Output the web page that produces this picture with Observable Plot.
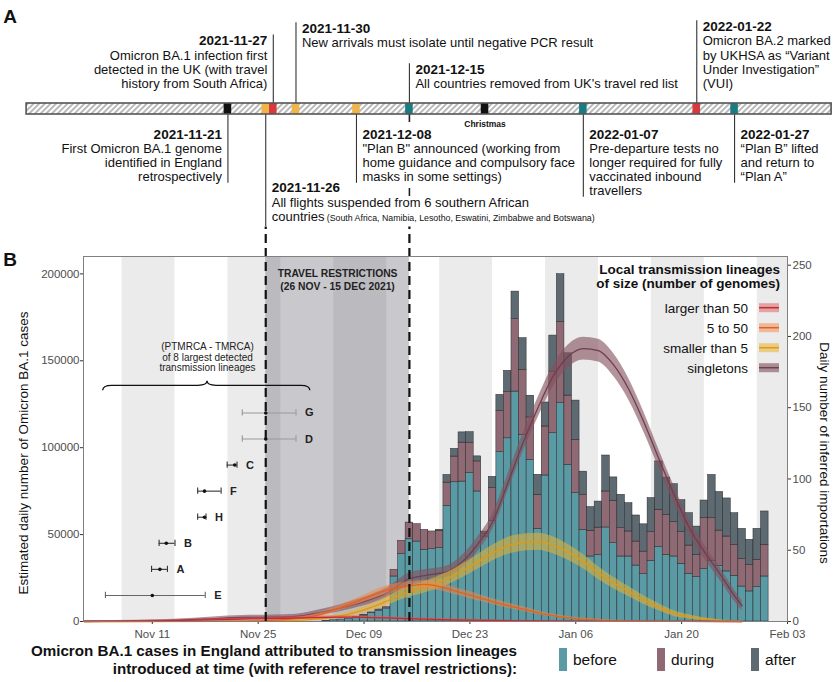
<!DOCTYPE html>
<html>
<head>
<meta charset="utf-8">
<script src="https://cdn.jsdelivr.net/npm/d3@7"></script>
<script src="https://cdn.jsdelivr.net/npm/@observablehq/plot@0.6"></script>
<style>
  html,body{margin:0;padding:0;background:#fff;}
  #root{position:relative;width:833px;height:682px;overflow:hidden;font-family:"Liberation Sans",Arial,Helvetica,sans-serif;color:#111;}
  #root svg{display:block;}
  .lg{position:absolute;white-space:nowrap;}
</style>
</head>
<body>
<div id="root"></div>
<script>
const FONT = '"Liberation Sans", Arial, Helvetica, sans-serif';
const D = s => new Date(s.length > 10 ? s : s + "T00:00:00Z");
const DAY = 864e5;
const novDay = d => new Date(Date.UTC(2021, 10, 1) + (d - 1) * DAY);

// ---------------- Panel A : timeline ----------------
const timelineRange = ["2021-10-25T09:00:00Z", "2022-02-08T20:00:00Z"];
const eventDates  = ["2021-11-21","2021-11-26","2021-11-27","2021-11-30","2021-12-08","2021-12-15","2021-12-25","2022-01-07","2022-01-22","2022-01-27"];
const eventTitles = ["2021-11-21","2021-11-26","2021-11-27","2021-11-30","2021-12-08","2021-12-15","Christmas","2022-01-07","2022-01-22","2022-01-27"];
const eventTexts = [
  ["First Omicron BA.1 genome","identified in England","retrospectively"],
  ["All flights suspended from 6 southern African","countries"],
  ["Omicron BA.1 infection first","detected in the UK (with travel","history from South Africa)"],
  ["New arrivals must isolate until negative PCR result"],
  ["\"Plan B\" announced (working from","home guidance and compulsory face","masks in some settings)"],
  ["All countries removed from UK's travel red list"],
  [],
  ["Pre-departure tests no","longer required for fully","vaccinated inbound","travellers"],
  ["Omicron BA.2 marked","by UKHSA as \u201cVariant","Under Investigation\u201d","(VUI)"],
  ["\u201cPlan B\u201d lifted","and return to","\u201cPlan A\u201d"]
];
const eventNote = "(South Africa, Namibia, Lesotho, Eswatini, Zimbabwe and Botswana)";
const eventColors = ["#111111","#f0b54a","#d8393b","#f0b54a","#f0b54a","#1b7b80","#111111","#1b7b80","#d8393b","#1b7b80"];

// ---------------- Panel B : data ----------------
const restriction = ["2021-11-26","2021-12-15"];
const restrictionLabel = "TRAVEL RESTRICTIONS\n(26 NOV - 15 DEC 2021)";
const xTickDates = ["2021-11-11","2021-11-25","2021-12-09","2021-12-23","2022-01-06","2022-01-20","2022-02-03"];
const yLeftTicks = [0, 50000, 100000, 150000, 200000];
const yRightTicks = [0, 50, 100, 150, 200, 250];
const R = 820; // cases per importation (secondary axis)

const barFirst = "2021-12-04", barLast = "2022-01-31";
const periods = ["before","during","after"];
const periodColors = ["#5a9aa4","#8f6a75","#5e6a72"];
const beforeCases = [400,700,1100,1600,2200,3400,4800,6300,7500,25900,38700,47300,46000,41200,41600,42200,66500,80100,80500,85300,74800,48900,57900,97400,105400,132300,107400,93000,
  53300,84000,108300,125600,90100,73800,52700,37400,38300,54100,45100,37400,37400,32200,27200,34900,42800,38300,37400,33200,27400,25500,30100,34900,32000,28800,26300,20100,17300,19800,25900];
const duringCases = [0,0,0,0,200,300,400,600,700,3800,7700,9600,10000,11500,10200,10000,13400,14800,22400,17300,17300,1300,18800,23800,26500,41600,37400,24400,
  19600,28200,35500,46600,39900,30700,20100,14800,15700,20700,24400,16300,14400,13800,13000,16500,21500,23000,19700,18200,16300,12800,29300,24500,20300,20100,17800,15900,15300,15700,18200];
const afterCases = [0,0,0,0,0,0,0,0,0,0,0,0,0,0,0,600,4400,4400,5900,6300,2900,1500,6500,9200,12300,15900,18200,12500,
  11500,13800,20700,27600,24300,22600,13400,13600,15000,20700,13400,19200,16300,15000,15700,19600,27800,21500,21900,18400,18600,16300,10200,24900,22200,21900,18200,17300,14400,17800,19200];

// importation curves: [date, value, half-width of ribbon]
const singletonsCurve = [["2021-11-02",0,0.2],["2021-11-08",0.2,0.4],["2021-11-14",0.8,0.8],["2021-11-19",2,1.2],["2021-11-23",2.8,1.4],["2021-11-27",3,1.5],["2021-11-30",3.5,1.6],["2021-12-03",6,2],["2021-12-06",9.5,2.5],["2021-12-09",14,3],["2021-12-12",20,3.5],["2021-12-15",30,4],["2021-12-18",33,4],["2021-12-20",35,4],["2021-12-22",42,4.5],["2021-12-24",54,5],["2021-12-26",70,5.5],["2021-12-28",97,6],["2021-12-30",125,6.5],["2022-01-01",150,7],["2022-01-03",172,7.5],["2022-01-05",186,8],["2022-01-07",191.5,8],["2022-01-09",190,8],["2022-01-11",180,8],["2022-01-13",163,7.5],["2022-01-15",140,7],["2022-01-17",114,6.5],["2022-01-19",89,6],["2022-01-21",66,5.5],["2022-01-23",49,5],["2022-01-25",34,4.5],["2022-01-27",18,4],["2022-01-28",11,3.5]];
const smallCurve = [["2021-11-02",0,0.1],["2021-11-20",0.05,0.2],["2021-11-26",0.3,0.4],["2021-12-01",1,0.8],["2021-12-05",3,1.5],["2021-12-08",6.5,2],["2021-12-11",12,3],["2021-12-14",19,3.5],["2021-12-17",24,4],["2021-12-20",30,4.5],["2021-12-23",38.5,5],["2021-12-26",48,5.5],["2021-12-29",54.5,6],["2022-01-01",56,6],["2022-01-03",53.5,6],["2022-01-05",48.5,5.5],["2022-01-07",42,5],["2022-01-09",34,4.5],["2022-01-11",27,4],["2022-01-13",21,3.5],["2022-01-15",15,3],["2022-01-17",10,2.5],["2022-01-19",5.5,2],["2022-01-21",3.2,1.5],["2022-01-23",1.6,1],["2022-01-25",0.7,0.6],["2022-01-28",0.2,0.3]];
const midCurve = [["2021-11-02",0,0.1],["2021-11-22",0.2,0.3],["2021-11-26",0.6,0.5],["2021-11-30",2,1],["2021-12-03",4.5,1.5],["2021-12-06",10,2],["2021-12-09",16,2.5],["2021-12-12",22,3],["2021-12-15",25,3],["2021-12-17",26,3],["2021-12-19",24.5,3],["2021-12-21",21.5,2.5],["2021-12-23",18.5,2.5],["2021-12-25",15.5,2.2],["2021-12-27",12.5,2],["2021-12-29",10,1.8],["2021-12-31",7.5,1.5],["2022-01-02",5,1.2],["2022-01-04",3.3,1],["2022-01-06",2,0.8],["2022-01-09",1,0.5],["2022-01-13",0.4,0.3],["2022-01-20",0.1,0.2],["2022-01-28",0,0.1]];
const largeCurve = [["2021-11-02",0.2,0.3],["2021-11-10",0.5,0.5],["2021-11-17",1,0.7],["2021-11-24",1.8,0.9],["2021-12-01",2.6,1],["2021-12-07",3,1],["2021-12-12",2.5,1],["2021-12-17",1.6,0.8],["2021-12-23",0.9,0.6],["2021-12-30",0.4,0.4],["2022-01-08",0.15,0.2],["2022-01-20",0.05,0.1],["2022-01-28",0,0.1]];
const curveLabels = ["larger than 50","5 to 50","smaller than 5","singletons"];
const curveLegendTitle = ["Local transmission lineages","of size (number of genomes)"];

// 8 largest transmission lineages (PTMRCA - TMRCA), days of November 2021
const lineageNames = ["G","D","C","F","H","B","A","E"];
const lineageCases = [120000,105000,90000,75000,60000,45000,30000,15000];
const lineageLo  = [22.9,22.9,20.9,17.0,17.0,11.9,10.9,4.8];
const lineageMid = [26.0,26.0,21.9,17.9,17.9,12.85,12.0,11.0];
const lineageHi  = [30.0,30.0,22.2,20.1,18.1,14.0,13.0,18.0];
const braceText = "(PTMRCA - TMRCA)\nof 8 largest detected\ntransmission lineages";
const braceSpan = [4.5, 31.9], braceTip = 18.3, braceCases = 135600, braceTextCases = 144000;

const yLeftLabel = "Estimated daily number of Omicron BA.1 cases";
const yRightLabel = "Daily number of inferred importations";
const bottomLegendTitle = ["Omicron BA.1 cases in England attributed to transmission lineages","introduced at time (with reference to travel restrictions):"];

// ---------------- shared x scale ----------------
const xScale = {type: "utc", domain: [new Date(Date.UTC(2021, 10, 1, 21, 36)), D("2022-02-03")]};
const ML = 83, MR = 46, W = 833;

// ================= PANEL A =================
const BAR_Y1 = 103, BAR_Y2 = 114, LH = 14.3;
const HATCH_KEY = "#fefefe";
const layoutA = {
  "2021-11-21": {side: "below", anchor: "end", tier: 0},
  "2021-11-26": {side: "below", anchor: "start", tier: 1},
  "2021-11-27": {side: "above", anchor: "end", tier: 0},
  "2021-11-30": {side: "above", anchor: "start", tier: 1},
  "2021-12-08": {side: "below", anchor: "start", tier: 0},
  "2021-12-15": {side: "above", anchor: "start", tier: 0},
  "2022-01-07": {side: "below", anchor: "start", tier: 0},
  "2022-01-22": {side: "above", anchor: "start", tier: 0},
  "2022-01-27": {side: "below", anchor: "start", tier: 0}
};
const titleRows = [], descRows = [], leaderRows = [];
let noteRow = null;
eventDates.forEach((ds, i) => {
  const L = layoutA[ds]; if (!L) return;
  const date = D(ds), lines = eventTexts[i];
  let titleBase, lineBase;
  if (L.side === "above") {
    const lastBase = 87.7 - L.tier * 41;
    lineBase = lines.map((_, j) => lastBase - (lines.length - 1 - j) * LH);
    titleBase = lineBase[0] - 14.5;
    leaderRows.push({date, y1: titleBase - 10, y2: BAR_Y1});
  } else {
    titleBase = 138.3 + L.tier * 53.4;
    lineBase = lines.map((_, j) => titleBase + 14.5 + j * 14.0);
    leaderRows.push({date, y1: BAR_Y2, y2: L.tier ? 226 : lineBase[lineBase.length - 1] + 2});
  }
  titleRows.push({date, y: titleBase, text: eventTitles[i], anchor: L.anchor});
  lines.forEach((t, j) => descRows.push({date, y: lineBase[j], text: t, anchor: L.anchor}));
  if (ds === restriction[0]) noteRow = {date, y: lineBase[lineBase.length - 1], text: eventNote};
});
const markerRows = eventDates.map((ds, i) => ({date: D(ds), color: eventColors[i]}));
const xmasIdx = eventTitles.indexOf("Christmas");
const endGaps = [[BAR_Y2, 122], [188, 196]]; // visible pieces of the 15 Dec line between labels

const plotA = Plot.plot({
  width: W, height: 226, marginTop: 0, marginBottom: 0, marginLeft: ML, marginRight: MR,
  x: {...xScale, axis: null},
  y: {domain: [0, 226], range: [0, 226], axis: null},
  color: {type: "identity"},
  style: {fontFamily: FONT, background: "transparent", overflow: "visible", color: "#111"},
  marks: [
    Plot.ruleX(leaderRows, {x: "date", y1: "y1", y2: "y2", stroke: "#333", strokeWidth: 1.1}),
    Plot.ruleX(endGaps, {x: () => D(restriction[1]), y1: d => d[0], y2: d => d[1], stroke: "#222", strokeWidth: 1.6}),
    Plot.rect([timelineRange], {x1: d => D(d[0]), x2: d => D(d[1]), y1: BAR_Y1, y2: BAR_Y2, fill: HATCH_KEY}),
    Plot.rect(markerRows, {x1: d => new Date(+d.date - DAY / 2), x2: d => new Date(+d.date + DAY / 2), y1: BAR_Y1, y2: BAR_Y2, fill: "color"}),
    Plot.rect([timelineRange], {x1: d => D(d[0]), x2: d => D(d[1]), y1: BAR_Y1, y2: BAR_Y2, fill: "none", stroke: "#555", strokeWidth: 1.6}),
    Plot.text(titleRows.filter(r => r.anchor === "start"), {x: "date", y: "y", text: "text", textAnchor: "start", dx: 6, fontSize: 13.5, fontWeight: "bold", lineAnchor: "bottom"}),
    Plot.text(titleRows.filter(r => r.anchor === "end"), {x: "date", y: "y", text: "text", textAnchor: "end", dx: -6, fontSize: 13.5, fontWeight: "bold", lineAnchor: "bottom"}),
    Plot.text(descRows.filter(r => r.anchor === "start"), {x: "date", y: "y", text: "text", textAnchor: "start", dx: 6, fontSize: 13, lineAnchor: "bottom"}),
    Plot.text(descRows.filter(r => r.anchor === "end"), {x: "date", y: "y", text: "text", textAnchor: "end", dx: -6, fontSize: 13, lineAnchor: "bottom"}),
    Plot.text([noteRow], {x: "date", y: "y", text: "text", textAnchor: "start", dx: 61, fontSize: 8.8, lineAnchor: "bottom"}),
    Plot.text([{date: D(eventDates[xmasIdx]), text: eventTitles[xmasIdx]}], {x: "date", y: 126, text: "text", textAnchor: "middle", fontSize: 8.5, fontWeight: "bold", lineAnchor: "bottom"})
  ]
});

// ================= PANEL B =================
const barDates = d3.utcDay.range(D(barFirst), new Date(+D(barLast) + DAY));
const barRows = barDates.flatMap((d, i) => [
  {date: d, period: "before", value: beforeCases[i]},
  {date: d, period: "during", value: duringCases[i]},
  {date: d, period: "after",  value: afterCases[i]}
]).filter(r => r.value > 0);

const weekBands = d3.utcDay.range(D("2021-11-07"), D("2022-02-04"), 14).map(d => ({x1: d, x2: new Date(+d + 7 * DAY)}));

const curveSeries = [
  {label: "singletons",     data: singletonsCurve, line: "#6e3f4d", fill: "#85515f", op: 0.62},
  {label: "smaller than 5", data: smallCurve,      line: "#e29815", fill: "#e8b532", op: 0.55},
  {label: "5 to 50",        data: midCurve,        line: "#e8601c", fill: "#ef8748", op: 0.5},
  {label: "larger than 50", data: largeCurve,      line: "#c8282e", fill: "#d9575c", op: 0.5}
];
const curveMarks = curveSeries.flatMap(s => {
  const rows = s.data.map(([d, v, w]) => ({date: D(d), v, w}));
  return [
    Plot.areaY(rows, {x: "date", y1: r => Math.max(0, r.v - r.w) * R, y2: r => (r.v + r.w) * R, fill: s.fill, fillOpacity: s.op, curve: "monotone-x"}),
    Plot.line(rows, {x: "date", y: r => r.v * R, stroke: s.line, strokeWidth: 1.3, curve: "monotone-x"})
  ];
});

const lineages = lineageNames.map((n, i) => ({name: n, y: lineageCases[i], lo: novDay(lineageLo[i]), mid: novDay(lineageMid[i]), hi: novDay(lineageHi[i])}));
const faint = new Set(["G", "D"]);
const lineageMarks = [[lineages.filter(d => faint.has(d.name)), "#9a9a9a"], [lineages.filter(d => d.name === "E"), "#666"], [lineages.filter(d => !faint.has(d.name) && d.name !== "E"), "#333"]]
  .flatMap(([rows, c]) => [
    Plot.ruleY(rows, {y: "y", x1: "lo", x2: "hi", stroke: c, strokeWidth: 1.1}),
    Plot.ruleX(rows, {x: "lo", y1: d => d.y - 1800, y2: d => d.y + 1800, stroke: c, strokeWidth: 1.1}),
    Plot.ruleX(rows, {x: "hi", y1: d => d.y - 1800, y2: d => d.y + 1800, stroke: c, strokeWidth: 1.1})
  ]);

const plotB = Plot.plot({
  width: W, height: 420, marginTop: 30, marginBottom: 25, marginLeft: ML, marginRight: MR,
  x: {...xScale, axis: null},
  y: {domain: [0, 210000], axis: null},
  color: {domain: periods, range: periodColors},
  style: {fontFamily: FONT, background: "transparent", overflow: "visible", color: "#111"},
  marks: [
    Plot.rect(weekBands, {x1: "x1", x2: "x2", fill: "#ebebeb", clip: true}),
    Plot.rect([restriction], {x1: d => D(d[0]), x2: d => D(d[1]), fill: "#4b4b58", fillOpacity: 0.3}),
    Plot.rect(barRows, Plot.stackY({x: "date", y: "value", x1: r => new Date(+r.date - DAY / 2), x2: r => new Date(+r.date + DAY / 2), fill: "period", stroke: "#262626", strokeWidth: 0.5})),
    ...curveMarks,
    ...lineageMarks,
    Plot.dot(lineages, {x: "mid", y: "y", r: 1.8, fill: "#111"}),
    Plot.text(lineages, {x: "hi", y: "y", text: "name", dx: 9, textAnchor: "start", fontSize: 11, fontWeight: "bold", fill: "#222"}),
    Plot.text([braceText], {x: () => novDay(braceTip), y: () => braceTextCases, text: d => d, fontSize: 10, lineHeight: 1.07, lineAnchor: "bottom", textAnchor: "middle", fill: "#222"}),
    Plot.ruleX(restriction, {x: d => D(d), y1: 0, y2: 227000, stroke: "#111", strokeWidth: 2.2, strokeDasharray: "9,5"}),
    Plot.text([restrictionLabel], {x: () => new Date((+D(restriction[0]) + +D(restriction[1])) / 2), frameAnchor: "top", text: d => d, dy: 11.7, lineAnchor: "top", lineHeight: 1.22, fontSize: 10.3, fontWeight: "bold", fill: "#222"}),
    Plot.axisX(xTickDates.map(D), {tickFormat: d3.utcFormat("%b %d"), tickSize: 3, tickPadding: 5, fontSize: 11.5, label: null, stroke: "#333", fill: "#4d4d4d"}),
    Plot.axisY(yLeftTicks, {anchor: "left", tickFormat: d => String(d), tickSize: 3, tickPadding: 1, fontSize: 11.5, label: null, stroke: "#333", fill: "#4d4d4d"}),
    Plot.axisY(yRightTicks.map(k => k * R), {anchor: "right", tickFormat: v => String(Math.round(v / R)), tickSize: 3, tickPadding: 2, fontSize: 11.5, label: null, stroke: "#333", fill: "#4d4d4d"}),
    Plot.frame({stroke: "#808080", strokeWidth: 1})
  ]
});

const root = document.getElementById("root");
root.append(plotA, plotB);

// hatch pattern for the timeline bar
const SVGNS = "http://www.w3.org/2000/svg";
const defs = document.createElementNS(SVGNS, "defs");
defs.innerHTML = '<pattern id="hatch" patternUnits="userSpaceOnUse" width="4" height="4" patternTransform="rotate(45)">' +
  '<rect width="4" height="4" fill="#ffffff"></rect><line x1="1" y1="0" x2="1" y2="4" stroke="#8a8a8a" stroke-width="1.2"></line></pattern>';
plotA.insertBefore(defs, plotA.firstChild);
plotA.querySelectorAll("[fill]").forEach(el => {
  if ((el.getAttribute("fill") || "").toLowerCase() === HATCH_KEY) el.setAttribute("fill", "url(#hatch)");
});
const svgA = d3.select(plotA);
svgA.append("text").attr("x", 10).attr("y", 23).attr("font-family", FONT).attr("font-size", 19).attr("font-weight", "bold").attr("fill", "#111").text("A");

const svgB = d3.select(plotB);
svgB.append("text").attr("x", 10).attr("y", 40).attr("font-family", FONT).attr("font-size", 19).attr("font-weight", "bold").attr("fill", "#111").text("B");

// axis titles
const midY = 227;
svgB.append("text").attr("transform", `translate(23,${midY}) rotate(-90)`).attr("text-anchor", "middle").attr("dominant-baseline", "central")
  .attr("font-family", FONT).attr("font-size", 13.5).attr("fill", "#111").text(yLeftLabel);
svgB.append("text").attr("transform", `translate(824,${midY}) rotate(90)`).attr("text-anchor", "middle").attr("dominant-baseline", "central")
  .attr("font-family", FONT).attr("font-size", 13.5).attr("fill", "#111").text(yRightLabel);

// curly brace over lineage intervals
const xS = plotB.scale("x"), yS = plotB.scale("y");
const bx0 = xS.apply(novDay(braceSpan[0])), bx1 = xS.apply(novDay(braceSpan[1])), bxm = xS.apply(novDay(braceTip));
const by = yS.apply(braceCases), q = 9, curl = 5, tip = 4.5;
svgB.append("path").attr("fill", "none").attr("stroke", "#111").attr("stroke-width", 1.3)
  .attr("d", `M${bx0},${by + curl} Q${bx0},${by} ${bx0 + q},${by} L${bxm - q},${by} Q${bxm},${by} ${bxm},${by - tip} Q${bxm},${by} ${bxm + q},${by} L${bx1 - q},${by} Q${bx1},${by} ${bx1},${by + curl}`);

// in-plot legend (curves)
const gL = svgB.append("g").attr("font-family", FONT).attr("fill", "#111");
curveLegendTitle.forEach((t, i) => gL.append("text").attr("x", 780).attr("y", 47.7 + i * 14.6).attr("text-anchor", "end").attr("font-size", 13.5).attr("font-weight", "bold").text(t));
curveLabels.forEach((lab, i) => {
  const s = curveSeries.find(c => c.label === lab), base = 86.7 + i * 20, cy = base - 5;
  gL.append("text").attr("x", 748).attr("y", base).attr("text-anchor", "end").attr("font-size", 13.5).text(lab);
  gL.append("rect").attr("x", 759).attr("y", cy - 4.5).attr("width", 20).attr("height", 9).attr("fill", s.fill).attr("fill-opacity", s.op);
  gL.append("line").attr("x1", 759).attr("x2", 779).attr("y1", cy).attr("y2", cy).attr("stroke", s.line).attr("stroke-width", 1.5);
});

// bottom legend (bar periods)
const rootSel = d3.select(root);
rootSel.append("div").attr("class", "lg")
  .style("left", "0px").style("top", "642px").style("width", "517px").style("text-align", "right")
  .style("font-weight", "bold").style("font-size", "15.2px").style("line-height", "18px")
  .html(bottomLegendTitle.join("<br>"));
const swatchX = [559, 657, 751];
periods.forEach((p, i) => {
  rootSel.append("div").attr("class", "lg").style("left", swatchX[i] + "px").style("top", "648px")
    .style("width", "8px").style("height", "23px").style("background", periodColors[i]);
  rootSel.append("div").attr("class", "lg").style("left", (swatchX[i] + 14) + "px").style("top", "650px")
    .style("font-size", "15.5px").style("line-height", "20px").text(p);
});
</script>
</body>
</html>
